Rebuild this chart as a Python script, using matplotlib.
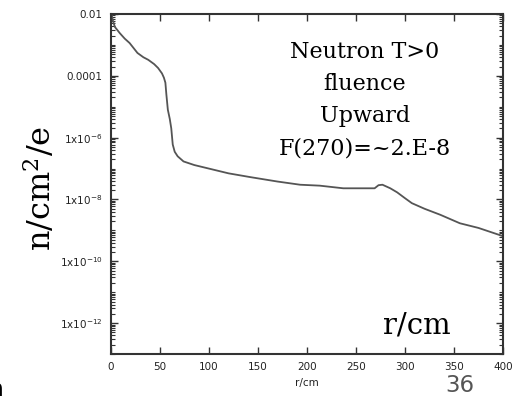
import numpy as np
import matplotlib
matplotlib.use("Agg")
import matplotlib.pyplot as plt
from matplotlib.ticker import FixedLocator, LogLocator, NullFormatter

# fluence vs radius
r = [0.5, 2, 4, 9, 14, 19, 27, 33, 38, 44, 48, 52, 54, 55.5, 56.5, 58, 60,
     61.5, 63, 65, 68, 74, 85, 96, 120, 142, 170, 193, 213, 237, 255, 269,
     273, 277, 285, 292, 300, 307, 320, 336, 356, 375, 397, 400]
flux = [1.0e-2, 6e-3, 3.8e-3, 2.4e-3, 1.6e-3, 1.15e-3, 5.5e-4, 4.0e-4, 3.3e-4,
        2.4e-4, 1.8e-4, 1.2e-4, 8.7e-5, 6e-5, 2.5e-5, 8e-6, 4e-6,
        2e-6, 6e-7, 3.5e-7, 2.5e-7, 1.7e-7, 1.3e-7, 1.07e-7, 7e-8, 5.3e-8,
        3.8e-8, 3.0e-8, 2.8e-8, 2.3e-8, 2.3e-8, 2.3e-8,
        2.9e-8, 3.0e-8, 2.3e-8, 1.7e-8, 1.1e-8, 7.6e-9, 5e-9, 3.2e-9,
        1.7e-9, 1.2e-9, 7e-10, 6.5e-10]

xticks = [0, 50, 100, 150, 200, 250, 300, 350, 400]
yticks = [1e-2, 1e-4, 1e-6, 1e-8, 1e-10, 1e-12]
ylabels = ["0.01", "0.0001", r"1x10$^{-6}$", r"1x10$^{-8}$",
           r"1x10$^{-10}$", r"1x10$^{-12}$"]
note_lines = ["Neutron T>0", "fluence", "Upward", "F(270)=~2.E-8"]

fig = plt.figure(figsize=(5.12, 3.96), dpi=100)
ax = fig.add_axes([0.2168, 0.106, 0.7656, 0.8586])
ax.plot(r, flux, color="#555555", lw=1.3)
ax.set_yscale("log")
ax.set_xlim(0, 400)
ax.set_ylim(1e-13, 1e-2)

ax.xaxis.set_major_locator(FixedLocator(xticks))
ax.set_xticklabels([str(v) for v in xticks])
ax.yaxis.set_major_locator(FixedLocator(yticks))
ax.set_yticklabels(ylabels)
ax.yaxis.set_minor_locator(LogLocator(base=10, subs=np.arange(1, 10), numticks=40))
ax.yaxis.set_minor_formatter(NullFormatter())

ax.tick_params(axis="both", which="major", direction="in", length=5, width=1,
               color="#333333", labelsize=7.5, labelcolor="#222222",
               top=True, right=True, pad=6)
ax.tick_params(axis="y", which="minor", direction="in", length=3, width=0.8,
               color="#333333", right=True)
for s in ax.spines.values():
    s.set_color("#333333")
    s.set_linewidth(1.5)

ax.set_xlabel("r/cm", fontsize=7.5, color="#222222", labelpad=4)

serif = ["DejaVu Serif"]
for i, line in enumerate(note_lines):
    fig.text(365 / 512, 1 - (52 + 32 * i) / 396, line, ha="center",
             va="center", fontsize=16, family=serif, color="black")
fig.text(417 / 512, 1 - 326 / 396, "r/cm", ha="center", va="center",
         fontsize=21, family=serif, color="black")
fig.text(40 / 512, 1 - 188 / 396, r"n/cm$^2$/e", rotation=90, ha="center",
         va="center", fontsize=23, family=serif, color="black",
         math_fontfamily="dejavuserif")
fig.text(460 / 512, 1 - 385 / 396, "36", ha="center", va="center",
         fontsize=16.5, color="#555555")
fig.text(-14 / 512, 1 - 390 / 396, "n", ha="left", va="center",
         fontsize=20, color="black", family=serif)

fig.savefig("out.png", dpi=100)
